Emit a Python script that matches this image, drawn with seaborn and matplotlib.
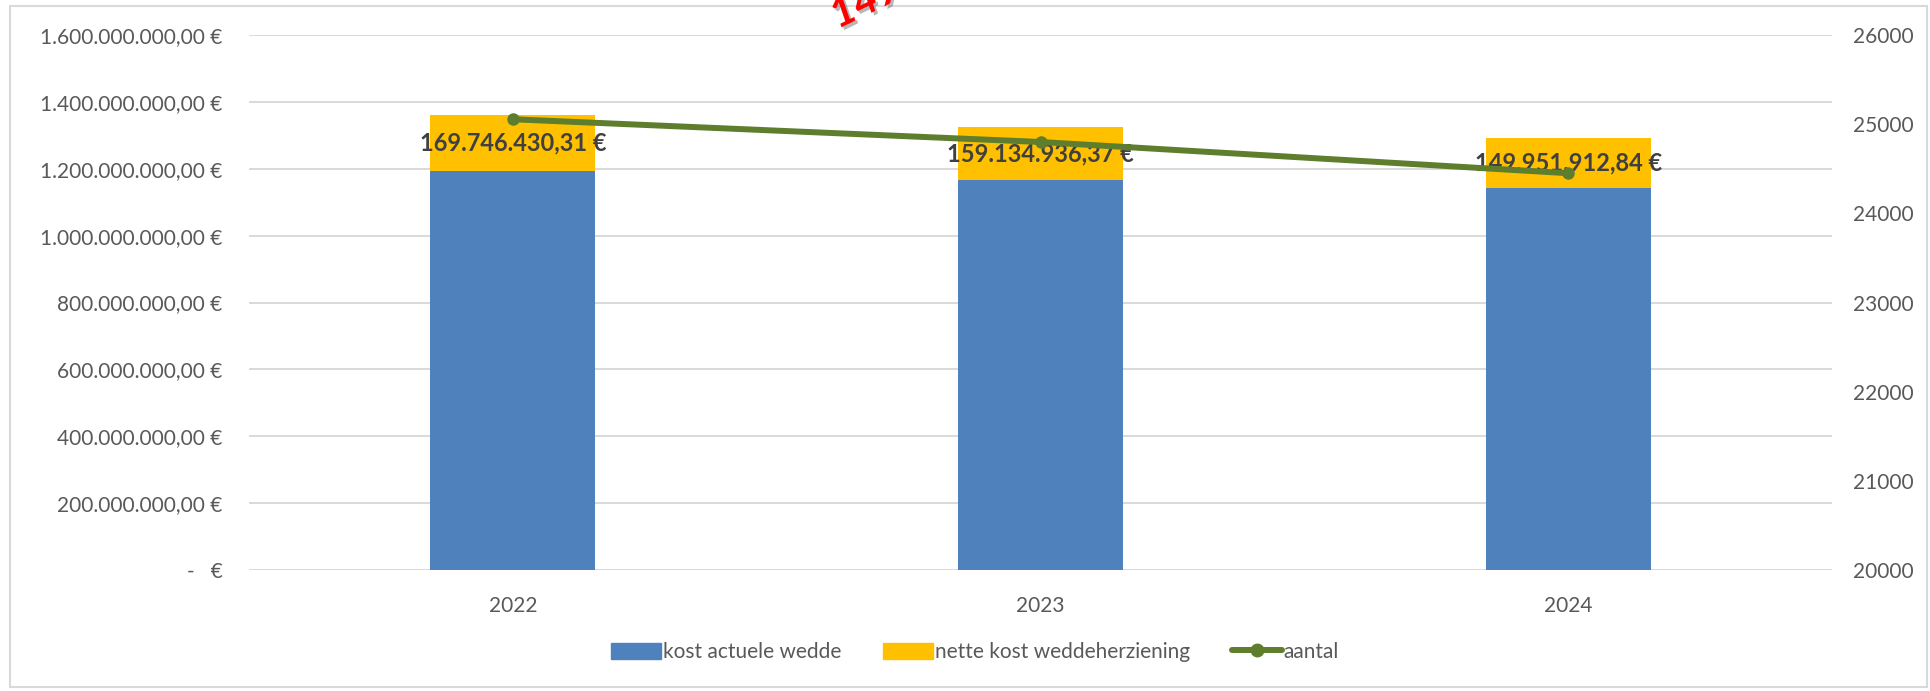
import numpy as np
import pandas as pd
import seaborn as sns
import matplotlib.pyplot as plt
from matplotlib.ticker import FuncFormatter, MultipleLocator
from matplotlib.patches import Patch, Rectangle
from matplotlib.lines import Line2D
import matplotlib.patheffects as pe

# data
years = ["2022", "2023", "2024"]
kost_actuele_wedde = [1192000000, 1166000000, 1141000000]
nette_kost = [169746430.31, 159134936.37, 149951912.84]
aantal = [25055, 24800, 24450]

blue = "#4F81BD"
yellow = "#FFC000"
green = "#5E7D2D"
grey_txt = "#595959"

sns.set_theme(style="white")
plt.rcParams['font.family'] = ['Lato', 'DejaVu Sans']


def euro(v, pos=None):
    if abs(v) < 0.5:
        return "-   €"
    s = f"{v:,.2f}".replace(",", "X").replace(".", ",").replace("X", ".")
    return s + " €"


df = pd.DataFrame({"jaar": years,
                   "wedde": kost_actuele_wedde,
                   "herz": nette_kost})
df["totaal"] = df["wedde"] + df["herz"]

W, H = 1931, 691
fig = plt.figure(figsize=(W / 100, H / 100), dpi=100)
ax = fig.add_axes([249 / W, 1 - 570 / H, (1832 - 249) / W, (570 - 35) / H])

sns.barplot(data=df, x="jaar", y="totaal", color=yellow, saturation=1,
            width=0.313, linewidth=0, ax=ax, zorder=2)
sns.barplot(data=df, x="jaar", y="wedde", color=blue, saturation=1,
            width=0.313, linewidth=0, ax=ax, zorder=3)

ax.set_xlim(-0.5, 2.5)
ax.set_ylim(0, 1.6e9)
ax.yaxis.set_major_locator(MultipleLocator(2e8))
ax.yaxis.set_major_formatter(FuncFormatter(euro))
ax.grid(axis="y", color="#D9D9D9", linewidth=1.4, zorder=0)
ax.set_axisbelow(True)
ax.set_xlabel("")
ax.set_ylabel("")
for s in ax.spines.values():
    s.set_visible(False)
ax.tick_params(axis="y", length=0, pad=19, labelsize=15, labelcolor=grey_txt)
ax.tick_params(axis="x", length=0, pad=19, labelsize=15, labelcolor=grey_txt)

for i, (b, h) in enumerate(zip(df["wedde"], df["herz"])):
    ax.text(i, b + h / 2, euro(h), ha="center", va="center", fontsize=17,
            fontweight="bold", color="#404040", zorder=5)

ax2 = ax.twinx()
sns.lineplot(x=np.arange(len(years)), y=aantal, color=green, linewidth=4.3,
             marker="o", markersize=9, markeredgewidth=0, ax=ax2, zorder=4)
ax2.set_ylim(20000, 26000)
ax2.yaxis.set_major_locator(MultipleLocator(1000))
for s in ax2.spines.values():
    s.set_visible(False)
ax2.tick_params(axis="y", length=0, pad=15, labelsize=15, labelcolor=grey_txt)
ax2.set_ylabel("")
ax2.grid(False)
ax2.set_xlim(-0.5, 2.5)
ax.set_zorder(1)
ax2.set_zorder(2)
ax.patch.set_visible(False)

handles = [Patch(color=blue, label="kost actuele wedde"),
           Patch(color=yellow, label="nette kost weddeherziening"),
           Line2D([0], [0], color=green, linewidth=4.3, marker="o",
                  markersize=9, label="aantal")]
fig.legend(handles=handles, loc="center", bbox_to_anchor=(975 / W, 1 - 652 / H),
           ncol=3, frameon=False, fontsize=15, labelcolor=grey_txt,
           handlelength=2.4, handleheight=0.8, handletextpad=0.1,
           columnspacing=2.0)

# chart frame
fig.patches.append(Rectangle((10 / W, 4 / H), (1927 - 10) / W, (685 - 4) / H,
                             transform=fig.transFigure, fill=False,
                             edgecolor="#D9D9D9", linewidth=1.5))

# red overlay text cut off at the top
fig.text(838 / W, 1 - 29 / H, "149.951.912,84 €", rotation=26,
         rotation_mode="anchor", ha="left", va="baseline", fontsize=30,
         fontweight="bold", style="italic", color="red",
         path_effects=[pe.withSimplePatchShadow(offset=(2, -2),
                                                shadow_rgbFace="#888888",
                                                alpha=0.6)])

fig.savefig("out.png", dpi=100)
